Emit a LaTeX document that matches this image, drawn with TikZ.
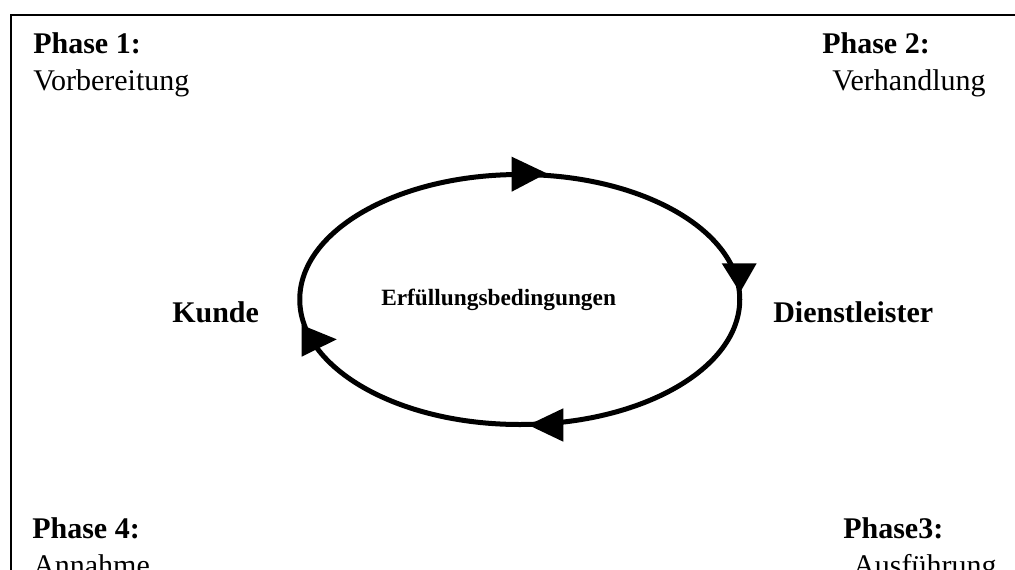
\documentclass[tikz,border=0pt]{standalone}
\usepackage{fontspec}
\setmainfont{Liberation Serif}
\begin{document}
\begin{tikzpicture}[x=0.75pt,y=-0.75pt,
  lbl/.style={inner sep=0pt,anchor=base west},
  phase/.style={lbl,font=\fontsize{22.5}{27}\selectfont\bfseries},
  stage/.style={lbl,font=\fontsize{22.5}{27}\selectfont},
  party/.style={lbl,font=\fontsize{22.5}{27}\selectfont\bfseries},
  centre/.style={lbl,font=\fontsize{17.5}{21}\selectfont\bfseries},
  cycle line/.style={line width=3.75pt},
  tip/.style={fill=black}]
  \useasboundingbox (0,0) rectangle (1015,569);
  \clip (0,0) rectangle (1015,569);
  % open frame: left and top edges
  \draw[line width=1.5pt] (10.5,590) -- (10.5,15) -- (1030,15);
  % phase captions in the corners
  \node[phase] (p1) at (33,53) {Phase 1:};
  \node[stage] (s1) at (33,90) {Vorbereitung};
  \node[phase] (p2) at (822,53) {Phase 2:};
  \node[stage] (s2) at (832,90) {Verhandlung};
  \node[phase] (p4) at (32,538) {Phase 4:};
  \node[stage] (s4) at (33,575) {Annahme};
  \node[phase] (p3) at (843,538) {Phase3:};
  \node[stage] (s3) at (853,575) {Ausführung};
  % the cycle between the two parties
  \coordinate (c) at (519.75,299.5);
  \draw[cycle line] (c) ellipse [x radius=165pt, y radius=93.75pt];
  \fill[tip] (511.7,156.7) -- (546.7,173.3) -- (511.7,191.7) -- cycle;
  \fill[tip] (721.7,263.3) -- (756.7,263.3) -- (740,292.5) -- cycle;
  \fill[tip] (563.3,408.3) -- (528.3,425) -- (563.3,441.7) -- cycle;
  \fill[tip] (301.7,325) -- (336.7,339.3) -- (301.7,356.7) -- cycle;
  \node[centre] (cond) at (381,305) {Erfüllungsbedingungen};
  \node[party] (kunde) at (172,322) {Kunde};
  \node[party] (dl) at (773,322) {Dienstleister};
\end{tikzpicture}
\end{document}
